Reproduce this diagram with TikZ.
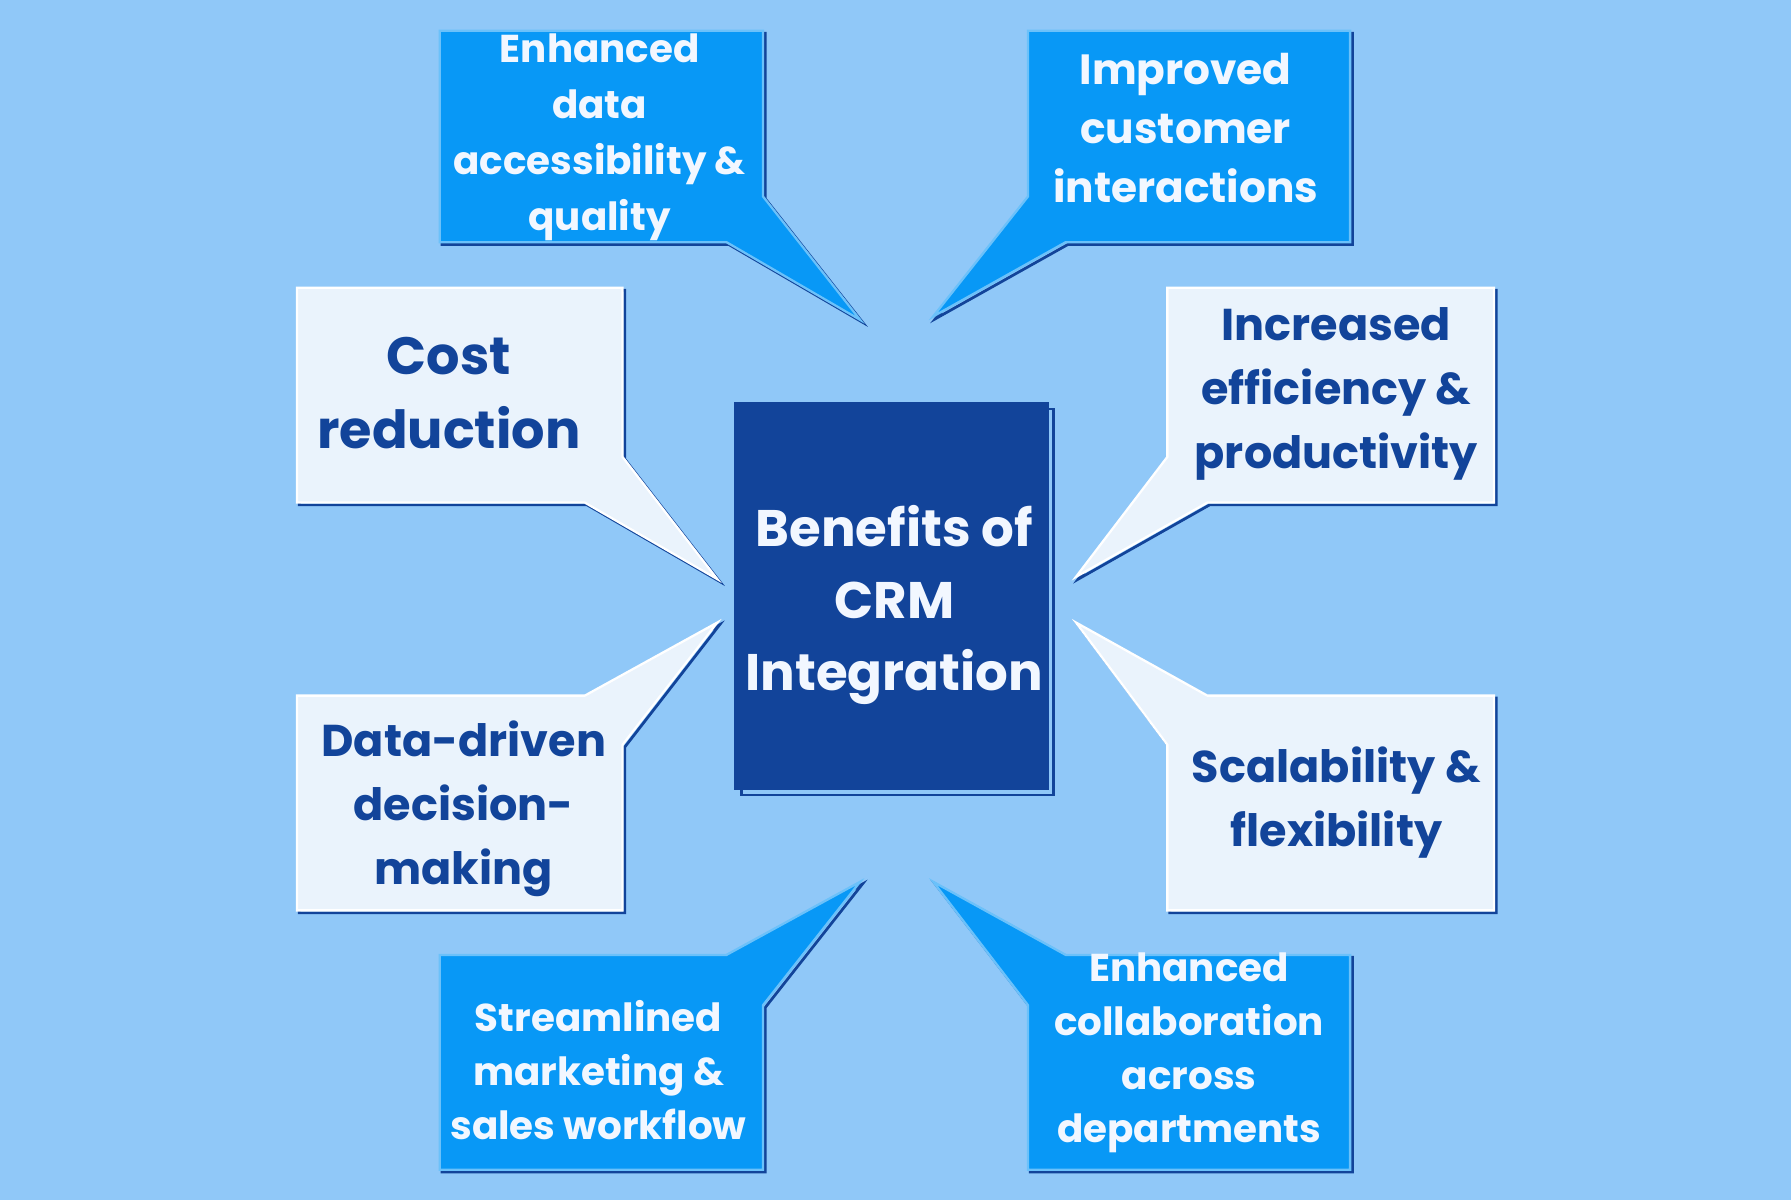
\documentclass[tikz,border=0pt]{standalone}
\usepackage{fontspec}
\setmainfont{Poppins}[BoldFont={* Bold},UprightFont={* SemiBold}]
\definecolor{bg}{HTML}{90C8F8}
\definecolor{dk}{HTML}{0898F6}
\definecolor{lt}{HTML}{EAF3FC}
\definecolor{navy}{HTML}{12449A}
\definecolor{wt}{HTML}{F2F7FF}
\tikzset{
  shadowline/.style={draw=navy,line width=1.2pt,line join=miter},
  darkcall/.style={fill=dk,draw=dk!60!white,line width=1pt},
  lightcall/.style={fill=lt,draw=white,line width=1pt},
  lbl/.style={align=center,inner sep=0pt,font=\bfseries},
}
\newcommand{\callout}[2]{%
  \draw[shadowline,shift={(2,2)}] #2 -- cycle;
  \fill[#1] #2 -- cycle;}
\begin{document}
\begin{tikzpicture}[x=0.5pt,y=-0.5pt]
\useasboundingbox (0,0) rectangle (1568,1051);
\fill[bg] (0,0) rectangle (1568,1051);
\callout{darkcall}{(385,27)--(668,27)--(668,172)--(753,280)--(636,212)--(385,212)}
\callout{darkcall}{(900,27)--(1182,27)--(1182,212)--(933,212)--(817,277)--(900,172)}
\callout{lightcall}{(260,252)--(545,252)--(545,400)--(628,507)--(512,440)--(260,440)}
\callout{lightcall}{(1022,252)--(1308,252)--(1308,440)--(1057,440)--(942,505)--(1022,400)}
\callout{lightcall}{(260,609)--(512,609)--(628,545)--(545,652)--(545,797)--(260,797)}
\callout{lightcall}{(1022,652)--(942,545)--(1057,609)--(1308,609)--(1308,797)--(1022,797)}
\callout{darkcall}{(385,836)--(636,836)--(753,772)--(668,880)--(668,1024)--(385,1024)}
\callout{darkcall}{(900,880)--(817,772)--(933,836)--(1182,836)--(1182,1024)--(900,1024)}
\draw[shadowline] (649,358) rectangle (922,696);
\fill[navy] (643,352) rectangle (918,692);
\node[lbl,text=wt,font=\fontsize{22.5}{31.5}\selectfont\bfseries] (c) at (783,530) {Benefits of\\CRM\\Integration};
\node[lbl,text=wt,font=\fontsize{17}{24.5}\selectfont\bfseries] (n1) at (525,120) {Enhanced\\data\\accessibility \&\\quality};
\node[lbl,text=wt,font=\fontsize{18.5}{26}\selectfont\bfseries] (n2) at (1038,112) {Improved\\customer\\interactions};
\node[lbl,text=navy,font=\fontsize{23}{32.5}\selectfont\bfseries] (n3) at (393,344) {Cost\\reduction};
\node[lbl,text=navy,font=\fontsize{19.5}{28}\selectfont\bfseries] (n4) at (1170,345) {Increased\\efficiency \&\\productivity};
\node[lbl,text=navy,font=\fontsize{19.5}{28}\selectfont\bfseries] (n5) at (406,708) {Data-driven\\decision-\\making};
\node[lbl,text=navy,font=\fontsize{19.5}{28}\selectfont\bfseries] (n6) at (1170,703) {Scalability \&\\flexibility};
\node[lbl,text=wt,font=\fontsize{17}{23.5}\selectfont\bfseries] (n7) at (524,937) {Streamlined\\marketing \&\\sales workflow};
\node[lbl,text=wt,font=\fontsize{17}{23.5}\selectfont\bfseries] (n8) at (1041,922) {Enhanced\\collaboration\\across\\departments};
\end{tikzpicture}
\end{document}
